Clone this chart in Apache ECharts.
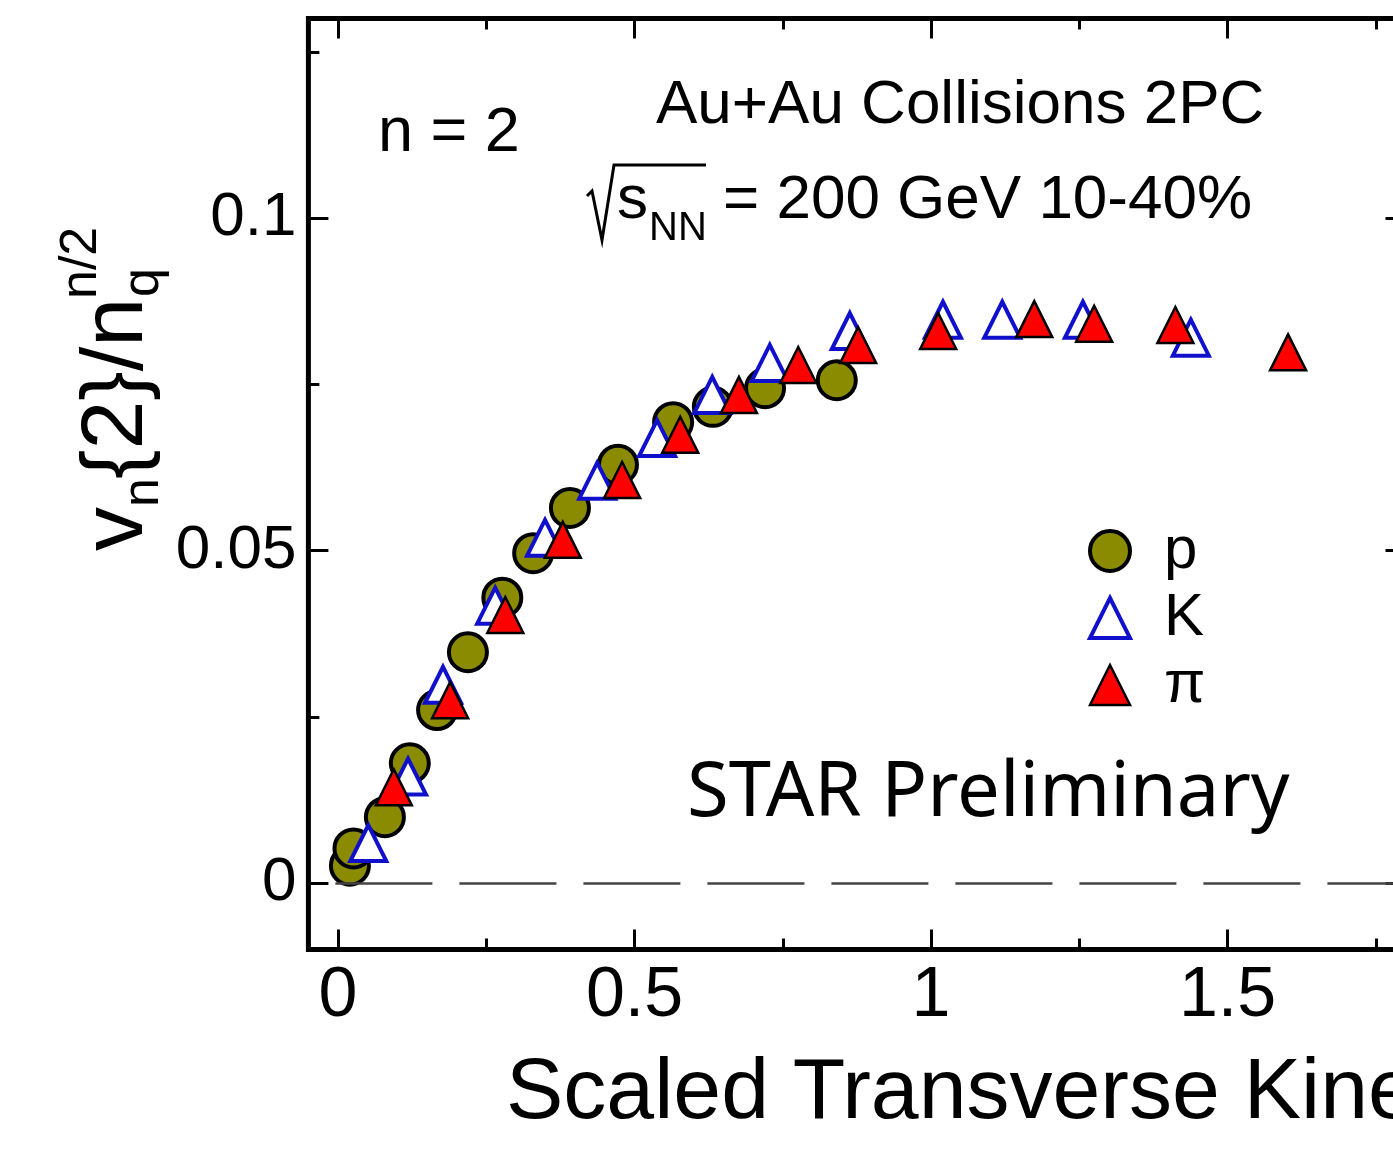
<!DOCTYPE html>
<html>
<head>
<meta charset="utf-8">
<script src="https://cdn.jsdelivr.net/npm/echarts@6/dist/echarts.min.js"></script>
<style>
  html, body { margin: 0; padding: 0; background: #fff; overflow: hidden; }
  /* the plot frame runs a little past the right edge of the picture, like the source */
  #chart { width: 1420px; height: 1162px; }
</style>
</head>
<body>
<div id="chart"></div>
<script>
// proton (circles)
const pX = [0.020, 0.026, 0.079, 0.121, 0.167, 0.219, 0.277, 0.329, 0.391, 0.472, 0.565, 0.632, 0.720, 0.841]
const pY = [0.0026, 0.0052, 0.0099, 0.0180, 0.0260, 0.0347, 0.0429, 0.0496, 0.0564, 0.0629, 0.0693, 0.0716, 0.0744, 0.0756]
// kaon (open triangles)
const kX = [0.051, 0.118, 0.177, 0.265, 0.349, 0.437, 0.538, 0.631, 0.728, 0.863, 1.020, 1.120, 1.256, 1.438]
const kY = [0.0060, 0.0160, 0.0298, 0.0417, 0.0519, 0.0605, 0.0669, 0.0734, 0.0782, 0.0830, 0.0847, 0.0847, 0.0847, 0.0820]
// pion (filled triangles)
const piX = [0.094, 0.189, 0.282, 0.379, 0.479, 0.577, 0.676, 0.776, 0.877, 1.012, 1.174, 1.275, 1.412, 1.602]
const piY = [0.0144, 0.0275, 0.0403, 0.0516, 0.0606, 0.0674, 0.0734, 0.0779, 0.0809, 0.0830, 0.0848, 0.0841, 0.0839, 0.0798]

const xMajorTicks = [0, 0.5, 1, 1.5]
const xMinorTicks = [0.25, 0.75, 1.25, 1.75]
const yMajorTicks = [0, 0.05, 0.1]
const yMinorTicks = [0.025, 0.075, 0.125]

const pair = (xs, ys) => xs.map((x, i) => [x, ys[i]])

const font = 'Liberation Sans, Arial, Helvetica, sans-serif'
const X_MIN = -0.05, X_MAX = 1.8, Y_MIN = -0.01, Y_MAX = 0.13

const tickStyle = { color: '#000', width: 3 }

function xAxisDef (position, ticks, len, labels) {
  return {
    type: 'value', position, min: X_MIN, max: X_MAX,
    axisLine: { show: false, onZero: false },
    splitLine: { show: false },
    axisTick: { show: true, inside: true, length: len, customValues: ticks, lineStyle: tickStyle },
    axisLabel: labels
      ? { show: true, customValues: ticks, fontSize: 70, fontFamily: font, color: '#000', margin: 12 }
      : { show: false }
  }
}

function yAxisDef (position, ticks, len, labels) {
  return {
    type: 'value', position, min: Y_MIN, max: Y_MAX,
    axisLine: { show: false, onZero: false },
    splitLine: { show: false },
    axisTick: { show: true, inside: true, length: len, customValues: ticks, lineStyle: tickStyle },
    axisLabel: labels
      ? { show: true, customValues: ticks, fontSize: 62, fontFamily: font, color: '#000', margin: 12 }
      : { show: false }
  }
}

const chart = echarts.init(document.getElementById('chart'), null, { renderer: 'canvas' })

const option = {
  animation: false,
  backgroundColor: '#fff',
  grid: {
    left: 308.4, right: 14.5, top: 18.5, bottom: 212.5,
    show: true, borderColor: '#000', borderWidth: 5, backgroundColor: 'transparent'
  },
  xAxis: [
    xAxisDef('bottom', xMajorTicks, 20, true),
    xAxisDef('bottom', xMinorTicks, 11, false),
    xAxisDef('top', xMajorTicks, 20, false),
    xAxisDef('top', xMinorTicks, 11, false)
  ],
  yAxis: [
    yAxisDef('left', yMajorTicks, 20, true),
    yAxisDef('left', yMinorTicks, 11, false),
    yAxisDef('right', yMajorTicks, 20, false),
    yAxisDef('right', yMinorTicks, 11, false)
  ],
  legend: {
    orient: 'vertical',
    left: 1083, top: 516,
    itemWidth: 40, itemHeight: 40, itemGap: 7,
    selectedMode: false,
    itemStyle: { borderWidth: 'inherit' },
    textStyle: { fontSize: 60, fontFamily: font, color: '#000', padding: [0, 0, 0, 29] },
    data: ['p', 'K', 'π']
  },
  series: [
    {
      name: 'p', type: 'scatter', data: pair(pX, pY),
      symbol: 'circle', symbolSize: 38, z: 2,
      itemStyle: { color: '#8b8b00', borderColor: '#000', borderWidth: 4, opacity: 1 },
      emphasis: { disabled: true },
      markLine: {
        silent: true, symbol: ['none', 'none'], label: { show: false },
        lineStyle: { color: '#444', width: 2.5, type: [97, 27], dashOffset: 97 },
        data: [{ yAxis: 0 }]
      }
    },
    {
      name: 'K', type: 'scatter', data: pair(kX, kY),
      symbol: 'triangle', symbolSize: 36, z: 3,
      itemStyle: { color: '#fff', borderColor: '#1010cc', borderWidth: 4, opacity: 1 },
      emphasis: { disabled: true }
    },
    {
      name: 'π', type: 'scatter', data: pair(piX, piY),
      symbol: 'triangle', symbolSize: 36, z: 4,
      itemStyle: { color: '#ff0000', borderColor: '#000', borderWidth: 2.5, opacity: 1 },
      emphasis: { disabled: true }
    }
  ],
  graphic: [
    // y axis title, rotated, built from pieces for sub/superscripts
    {
      type: 'group', x: 142, y: 551, rotation: Math.PI / 2,
      children: [
        { type: 'text', x: 0, y: -24, style: { text: 'v', font: '88px ' + font, fill: '#000', verticalAlign: 'middle' } },
        { type: 'text', x: 44, y: 2, style: { text: 'n', font: '52px ' + font, fill: '#000', verticalAlign: 'middle' } },
        { type: 'text', x: 72, y: -24, style: { text: '{2}/n', font: '88px ' + font, fill: '#000', verticalAlign: 'middle' } },
        { type: 'text', x: 254, y: 2, style: { text: 'q', font: '52px ' + font, fill: '#000', verticalAlign: 'middle' } },
        { type: 'text', x: 252, y: -60, style: { text: 'n/2', font: '52px ' + font, fill: '#000', verticalAlign: 'middle' } }
      ]
    },
    {
      type: 'text', left: 506, top: 1051,
      style: { text: 'Scaled Transverse Kinetic Energy', font: '86px ' + font, fill: '#000' }
    },
    {
      type: 'text', x: 378, y: 134,
      style: { text: 'n = 2', font: '63px ' + font, fill: '#000', verticalAlign: 'middle' }
    },
    {
      type: 'text', x: 656, y: 106,
      style: { text: 'Au+Au Collisions 2PC', font: '62px ' + font, fill: '#000', verticalAlign: 'middle' }
    },
    {
      type: 'polyline', silent: true,
      shape: { points: [[587, 196], [592, 191], [602, 240], [614, 165], [706, 165]] },
      style: { stroke: '#000', lineWidth: 3, fill: null }
    },
    {
      type: 'text', x: 617, y: 201,
      style: { text: 's', font: '62px ' + font, fill: '#000', verticalAlign: 'middle' }
    },
    {
      type: 'text', x: 649, y: 229,
      style: { text: 'NN', font: '40px ' + font, fill: '#000', verticalAlign: 'middle' }
    },
    {
      type: 'text', x: 723, y: 201,
      style: { text: '= 200 GeV 10-40%', font: '62px ' + font, fill: '#000', verticalAlign: 'middle' }
    },
    {
      type: 'text', x: 687, y: 794,
      style: { text: 'STAR Preliminary', font: '76px Noto Sans, sans-serif', fill: '#000', verticalAlign: 'middle' }
    }
  ]
}

chart.setOption(option)
window.addEventListener('resize', function () {
  chart.resize()
})
</script>
</body>
</html>
